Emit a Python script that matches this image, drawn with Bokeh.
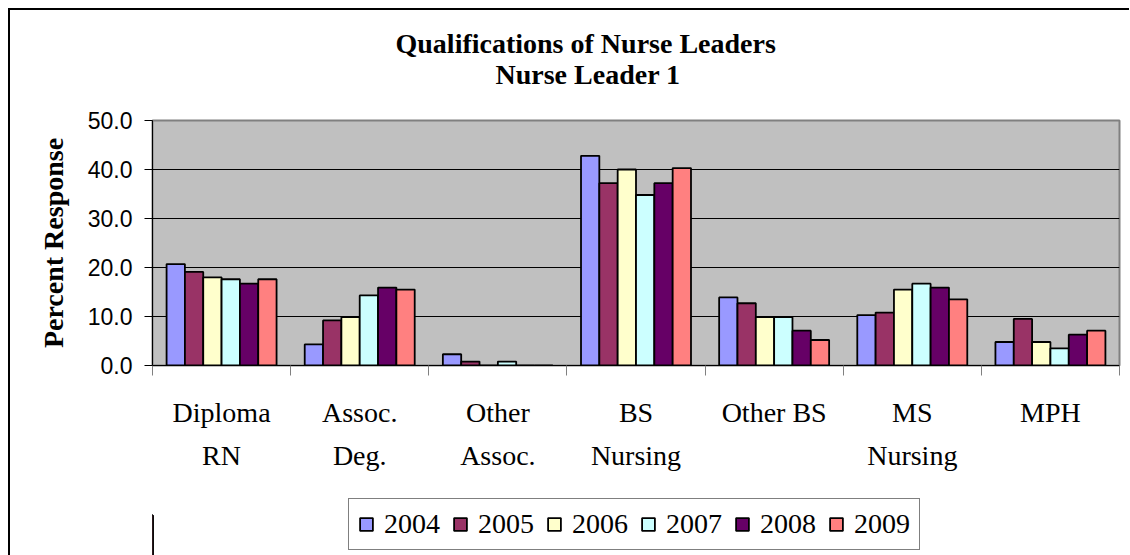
from bokeh.plotting import figure
from bokeh.layouts import column
from bokeh.models import (ColumnDataSource, Range1d, FixedTicker, Legend, LegendItem,
                          Title, NumeralTickFormatter, LinearAxis)
from bokeh.embed import file_html
from bokeh.resources import INLINE

categories = ["Diploma\nRN", "Assoc.\nDeg.", "Other\nAssoc.", "BS\nNursing",
              "Other BS", "MS\nNursing", "MPH"]
years = ["2004", "2005", "2006", "2007", "2008", "2009"]
v2004 = [20.7, 4.3, 2.3, 42.8, 13.9, 10.3, 4.8]
v2005 = [19.1, 9.2, 0.8, 37.2, 12.7, 10.8, 9.5]
v2006 = [18.0, 9.9, 0.0, 40.0, 9.9, 15.5, 4.8]
v2007 = [17.6, 14.3, 0.8, 34.8, 9.9, 16.7, 3.5]
v2008 = [16.7, 15.9, 0.0, 37.2, 7.1, 15.9, 6.3]
v2009 = [17.6, 15.5, 0.0, 40.3, 5.2, 13.5, 7.1]
series = [v2004, v2005, v2006, v2007, v2008, v2009]
colors = ["#9999FF", "#993366", "#FFFFCC", "#CCFFFF", "#660066", "#FF8080"]
title_lines = ["Qualifications of Nurse Leaders", "Nurse Leader 1"]
y_label = "Percent Response"

SERIF = "Liberation Serif"
SANS = "Liberation Sans"

n = len(categories)
line1 = [c.split("\n")[0] for c in categories]
line2 = [(c.split("\n") + [" "])[1] for c in categories]

p = figure(width=1119, height=465, output_backend="svg", toolbar_location=None,
           x_range=Range1d(-0.5, n - 0.5), y_range=Range1d(0, 50),
           min_border_left=142, min_border_right=10, min_border_top=110,
           min_border_bottom=110)
p.background_fill_color = "#C0C0C0"
p.border_fill_color = "white"
p.outline_line_color = "#808080"
p.outline_line_width = 2

bw = 0.1327
for j, (yr, vals, c) in enumerate(zip(years, series, colors)):
    src = ColumnDataSource(dict(x=[i + (j - 2.5) * bw for i in range(n)], top=vals))
    p.vbar(x="x", top="top", width=bw, bottom=0, source=src, fill_color=c,
           line_color="black", line_width=1.8)

# grid
p.xgrid.visible = False
p.ygrid.grid_line_color = "black"
p.ygrid.grid_line_width = 1
p.ygrid.ticker = FixedTicker(ticks=[0, 10, 20, 30, 40, 50])

# y axis
p.yaxis.ticker = FixedTicker(ticks=[0, 10, 20, 30, 40, 50])
p.yaxis.formatter = NumeralTickFormatter(format="0.0")
p.yaxis.major_label_text_font = SANS
p.yaxis.major_label_text_font_size = "23px"
p.yaxis.major_label_text_color = "black"
p.yaxis.major_tick_out = 8
p.yaxis.major_tick_in = 0
p.yaxis.minor_tick_out = 0
p.yaxis.minor_tick_in = 0
p.yaxis.major_label_standoff = 12
p.yaxis.axis_line_color = "black"
p.yaxis.axis_label = y_label
p.yaxis.axis_label_text_font = SERIF
p.yaxis.axis_label_text_font_style = "bold"
p.yaxis.axis_label_text_font_size = "28px"
p.yaxis.axis_label_text_color = "black"
p.yaxis.axis_label_standoff = 16

# x axis: first line of each category label
xa = p.xaxis[0]
xa.ticker = FixedTicker(ticks=list(range(n)), minor_ticks=[i - 0.5 for i in range(n + 1)])
xa.major_label_overrides = {i: line1[i] for i in range(n)}
xa.major_label_text_font = SERIF
xa.major_label_text_font_size = "28px"
xa.major_label_text_color = "black"
xa.major_tick_out = 0
xa.major_tick_in = 0
xa.minor_tick_out = 10
xa.minor_tick_in = 0
xa.minor_tick_line_color = "#808080"
xa.major_label_standoff = 21
xa.axis_line_color = "black"

# second line of the category labels
xa2 = LinearAxis(ticker=FixedTicker(ticks=list(range(n))),
                 major_label_overrides={i: line2[i] for i in range(n)},
                 major_label_text_font=SERIF, major_label_text_font_size="28px",
                 major_label_text_color="black", major_label_standoff=3,
                 axis_line_color=None, major_tick_line_color=None,
                 minor_tick_line_color=None)
p.add_layout(xa2, "below")

# title: two lines, left aligned with offsets so that they sit centred over the chart
t2 = Title(text=title_lines[1], align="left", offset=343, text_font=SERIF,
           text_font_style="bold", text_font_size="28px", text_color="black",
           standoff=62)
t1 = Title(text=title_lines[0], align="left", offset=243, text_font=SERIF,
           text_font_style="bold", text_font_size="28px", text_color="black",
           standoff=-67)
p.add_layout(t2, "above")
p.add_layout(t1, "above")

# legend strip under the chart (its swatch renderers sit outside the visible range)
p2 = figure(width=1119, height=80, output_backend="svg", toolbar_location=None,
            x_axis_type=None, y_axis_type=None, min_border=0,
            x_range=Range1d(0, 1), y_range=Range1d(0, 1))
p2.background_fill_color = "white"
p2.border_fill_color = "white"
p2.outline_line_color = None
legend_items = []
for yr, c in zip(years, colors):
    r = p2.vbar(x=[-5], top=[0.5], width=0.5, fill_color=c, line_color="black",
                line_width=1.8)
    legend_items.append(LegendItem(label=yr, renderers=[r]))

legend = Legend(items=legend_items, orientation="horizontal", location=(196, 5),
                margin=0, padding=9, spacing=12, label_standoff=10,
                glyph_width=16, glyph_height=16,
                label_text_font=SERIF, label_text_font_size="28px",
                label_text_color="black",
                border_line_color="black", border_line_width=1,
                background_fill_color="white", background_fill_alpha=1)
p2.add_layout(legend, "center")

layout = column(p, p2, spacing=0)
layout.styles = {"margin-left": "8px", "margin-top": "8px",
                 "border-left": "2px solid black", "border-top": "2px solid black"}

open("out.html", "w").write(file_html(layout, INLINE))
